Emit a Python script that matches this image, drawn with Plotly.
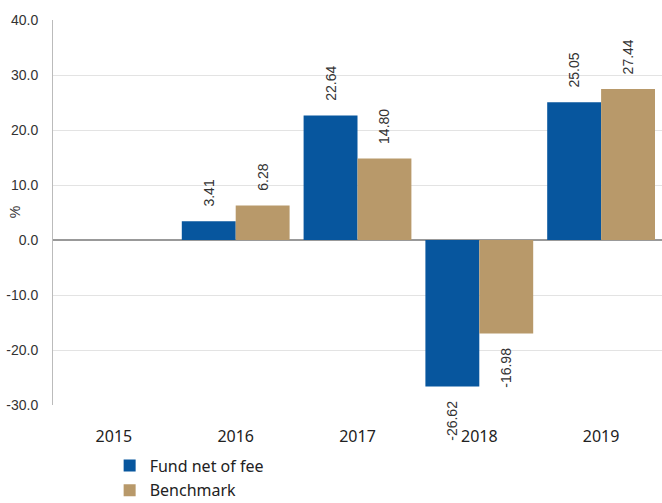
import plotly.graph_objects as go

years = ["2015", "2016", "2017", "2018", "2019"]
fund = [None, 3.41, 22.64, -26.62, 25.05]
bench = [None, 6.28, 14.80, -16.98, 27.44]
y_ticks = [-30, -20, -10, 0, 10, 20, 30, 40]

BLUE = "#07569e"
TAN = "#b8996a"

PAD = "\u00a0\u00a0\u00a0"

def labels(vals):
    out = []
    for v in vals:
        if v is None:
            out.append("")
        elif v >= 0:
            out.append(PAD + f"{v:.2f}")
        else:
            out.append(f"{v:.2f}" + PAD)
    return out

fig = go.Figure()
for name, vals, col in [("Fund net of fee", fund, BLUE), ("Benchmark", bench, TAN)]:
    fig.add_trace(go.Bar(
        x=years, y=vals, name=name, legendgroup=name,
        marker=dict(color=col, line=dict(width=0)),
        text=labels(vals), textposition="outside", textangle=-90,
        textfont=dict(family="Liberation Sans, Arial", size=14, color="#333333"),
        constraintext="none", cliponaxis=False, hoverinfo="skip",
    ))

fig.update_layout(
    width=662, height=503,
    margin=dict(l=53, r=0, t=20, b=98, autoexpand=False),
    paper_bgcolor="white", plot_bgcolor="white",
    barmode="group", bargap=0.115, bargroupgap=0,
    showlegend=True,
    legend=dict(orientation="v", x=0.093, xanchor="left", y=-0.113, yanchor="top",
                font=dict(family="Noto Sans", size=16, color="#222222"),
                itemsizing="constant", tracegroupgap=1),
    xaxis=dict(showgrid=False, showline=False, ticks="", ticklabelstandoff=20,
               automargin=False,
               tickfont=dict(family="Noto Sans", size=16, color="#222222")),
    yaxis=dict(range=[-30, 40], tickvals=y_ticks, ticktext=[f"{v:.1f}" for v in y_ticks],
               automargin=False,
               showgrid=True, gridcolor="#e3e3e3", gridwidth=1,
               zeroline=True, zerolinecolor="#999999", zerolinewidth=1.5,
               showline=True, linecolor="#bbbbbb", linewidth=1,
               ticklabelstandoff=11,
               tickfont=dict(family="Liberation Sans, Arial", size=14, color="#333333")),
    annotations=[dict(text="%", xref="paper", yref="paper", x=-0.063, y=0.5,
                      xanchor="center", yanchor="middle", textangle=-90, showarrow=False,
                      font=dict(family="Liberation Sans, Arial", size=14, color="#333333"))],
)

fig.write_html("out.html", config={"displayModeBar": False},
               post_script="document.body.style.margin='0';")
